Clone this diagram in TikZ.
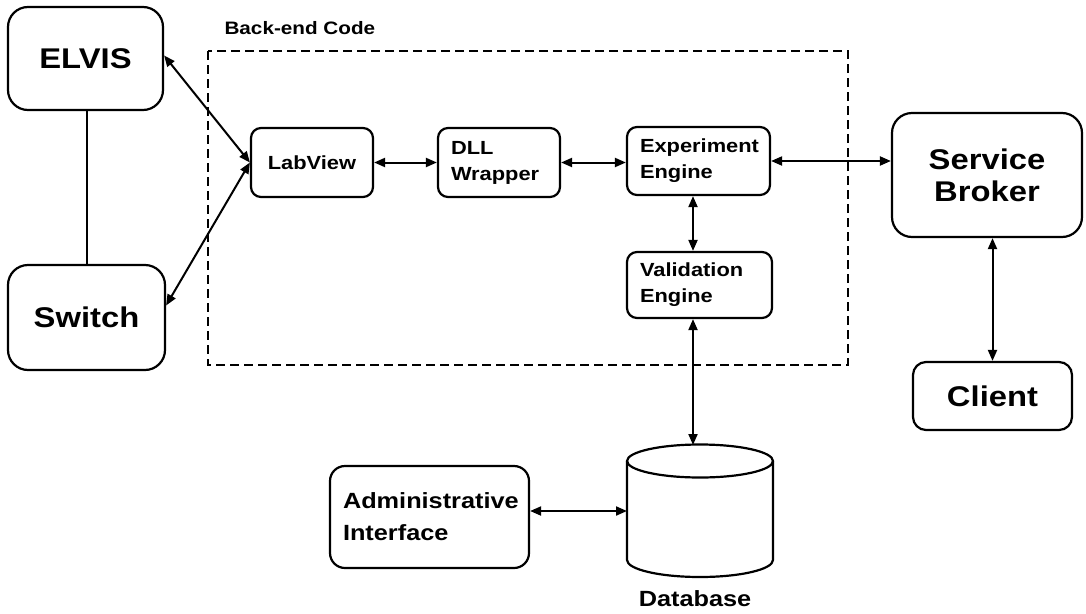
\documentclass[tikz,border=0pt]{standalone}
\usepackage{fontspec}
\setmainfont{Liberation Sans}[FakeStretch=1.15]
\usetikzlibrary{arrows.meta,calc}
\begin{document}
\begin{tikzpicture}[x=1pt,y=-1pt,
  box/.style={draw, line width=2.2pt, inner sep=0pt, font=\bfseries},
  big/.style={box, align=center, font=\bfseries\fontsize{28.5}{32}\selectfont},
  small/.style={box, align=left, inner xsep=13pt, font=\bfseries\fontsize{19}{26}\selectfont},
  tip/.style={Triangle[length=11pt,width=9pt]},
  arr/.style={{Triangle[length=11pt,width=9pt]}-{Triangle[length=11pt,width=9pt]}, line width=2pt},
  dashbox/.style={draw, line width=1.6pt, dash pattern=on 9pt off 5pt}
]
\useasboundingbox (0,0) rectangle (1086,613);

% dashed back-end region
\draw[dashbox] (208,51) rectangle (848,365);
\node[anchor=base west, font=\bfseries\fontsize{18}{20}\selectfont] (backend) at (221,34) {Back-end Code};

% big boxes
\node[big, rounded corners=20pt, minimum width=155pt, minimum height=103pt] (elvis) at (85.5,58.5) {ELVIS};
\node[big, rounded corners=20pt, minimum width=157pt, minimum height=105pt] (switch) at (86.5,317.5) {Switch};
\node[big, rounded corners=20pt, minimum width=190pt, minimum height=124pt] (sb) at (987,175) {Service\\Broker};
\node[big, rounded corners=13pt, minimum width=159pt, minimum height=68pt] (client) at (992.5,396) {Client};

% small boxes
\node[box, align=center, rounded corners=10pt, minimum width=122pt, minimum height=69pt, font=\bfseries\fontsize{19}{26}\selectfont] (labview) at (312,162.5) {LabView};
\node[small, rounded corners=10pt, text width=96pt, minimum height=69pt] (dll) at (499,162.5) {DLL\\Wrapper};
\node[small, rounded corners=10pt, text width=117pt, minimum height=68pt] (ee) at (698.5,161) {Experiment\\Engine};
\node[small, rounded corners=10pt, text width=119pt, minimum height=66pt] (ve) at (699.5,285) {Validation\\Engine};
\node[small, rounded corners=15pt, text width=173pt, minimum height=102pt, font=\bfseries\fontsize{22}{32}\selectfont] (admin) at (429.5,517) {Administrative\\Interface};

% database cylinder
\node[minimum width=146pt, minimum height=132pt, inner sep=0pt] (db) at (700,511) {};
\draw[line width=2.2pt, fill=white] (627,461) -- (627,560) arc[start angle=180, end angle=0, x radius=73, y radius=17] -- (773,461);
\draw[line width=2.2pt] (700,461) ellipse[x radius=73, y radius=16.5];
\node[font=\bfseries\fontsize{22}{26}\selectfont] (dblabel) at (695,599) {Database};
\coordinate (dbin) at (693,445);
\coordinate (dbleft) at (627,511);
\coordinate (adminout) at ([yshift=6pt]admin.east);

% connectors
\draw[line width=1.1pt] (elvis.south -| 87,0) -- (switch.north -| 87,0);
\draw[arr] ([yshift=3pt]elvis.east) -- (labview.west);
\draw[arr] (labview.west) -- ([yshift=12pt]switch.east);
\draw[arr] (labview.east) -- (dll.west);
\draw[arr] (dll.east) -- (ee.west |- dll.east);
\draw[arr] (ee.east) -- (sb.west |- ee.east);
\draw[arr] (ee.south -| dbin) -- (ve.north -| dbin);
\draw[arr] (ve.south -| dbin) -- (dbin);
\draw[arr] (adminout) -- (dbleft |- adminout);
\draw[arr] (sb.south -| client.north) -- (client.north);
\end{tikzpicture}
\end{document}
